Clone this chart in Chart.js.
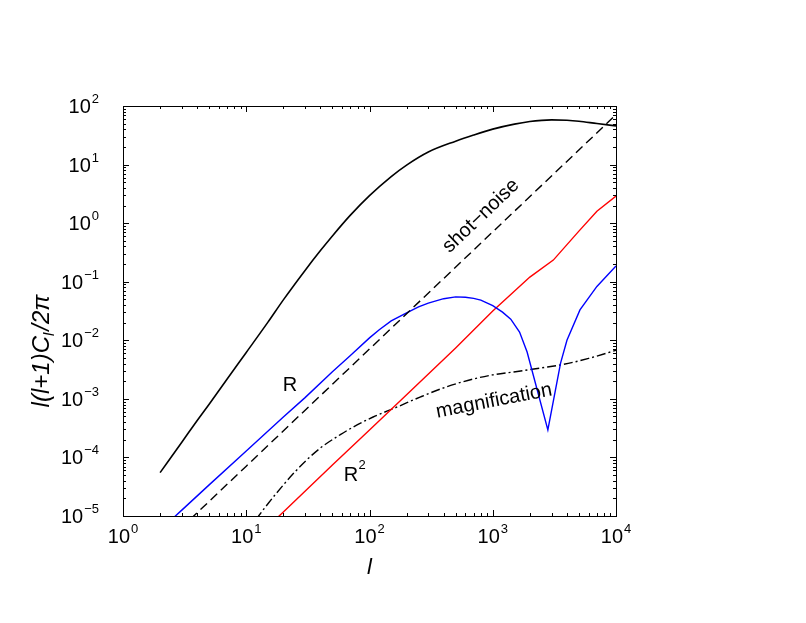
<!DOCTYPE html>
<html>
<head>
<meta charset="utf-8">
<script src="https://cdn.jsdelivr.net/npm/chart.js@4"></script>
<style>
  html, body { margin: 0; padding: 0; background: #fff; }
  #wrap { width: 806px; height: 623px; }
</style>
</head>
<body>
<div id="wrap"><canvas id="powerChart" width="806" height="623"></canvas></div>
<script>
// multipole l and l(l+1)C_l/2pi
const signalL = [2, 3, 4, 5, 7, 10, 15, 20, 30, 40, 50, 70, 100, 150, 200, 300, 500, 700, 1000, 1500, 2000, 2500, 3000, 4000, 5000, 7000, 10000];
const signalVals = [5.5e-5, 1.82e-4, 4.27e-4, 8.1e-4, 2.19e-3, 6.2e-3, 0.0204, 0.049, 0.156, 0.34, 0.605, 1.37, 2.95, 6.24, 9.8, 16.4, 25.1, 32.0, 40.3, 49.0, 54.3, 56.9, 57.9, 57.1, 55.0, 50.1, 45.7];

const shotL = [2, 3, 10, 100, 1000, 10000];
const shotVals = [2.8e-6, 6.4e-6, 7.1e-5, 7.1e-3, 0.71, 71];

const rL = [2, 3, 5, 10, 20, 30, 50, 70, 100, 120, 150, 200, 250, 300, 400, 500, 600, 700, 800, 1000, 1200, 1400, 1650, 1900, 2800, 3550, 4000, 5100, 7000, 10000];
const rVals = [5.75e-6, 1.26e-5, 3.4e-5, 1.29e-4, 4.9e-4, 1.05e-3, 2.9e-3, 5.5e-3, 0.011, 0.0151, 0.0214, 0.0295, 0.0372, 0.0432, 0.0513, 0.055, 0.0543, 0.0519, 0.0484, 0.0389, 0.0302, 0.0229, 0.0138, 6.3e-3, 2.95e-4, 4.07e-3, 0.01, 0.033, 0.083, 0.186];

const r2L = [10, 20, 50, 100, 200, 500, 1000, 2000, 3100, 5000, 7000, 10000];
const r2Vals = [2.95e-6, 1.17e-5, 7.4e-5, 2.95e-4, 1.17e-3, 7.4e-3, 0.0316, 0.12, 0.234, 0.73, 1.6, 2.9];

const magL = [10, 12.6, 15, 20, 25, 31, 40, 58, 80, 107, 166, 257, 427, 700, 1000, 1480, 2500, 3550, 6000, 10000];
const magVals = [5.0e-6, 1e-5, 1.62e-5, 3.39e-5, 5.75e-5, 9.1e-5, 1.45e-4, 2.45e-4, 3.63e-4, 4.9e-4, 7.2e-4, 1.07e-3, 1.62e-3, 2.19e-3, 2.57e-3, 2.88e-3, 3.39e-3, 3.8e-3, 4.9e-3, 6.76e-3];

const xDecades = [0, 1, 2, 3, 4];
const yDecades = [-5, -4, -3, -2, -1, 0, 1, 2];

const toPoints = (ls, vs) => ls.map((l, i) => ({ x: l, y: vs[i] }));

const FONT = '"Liberation Sans", Arial, Helvetica, sans-serif';

function supText(n) {
  return n < 0 ? "\u2212" + Math.abs(n) : String(n);
}

// draws "10" with a raised exponent
function drawPow(ctx, exp, x, baseY, align) {
  ctx.font = `20px ${FONT}`;
  const w10 = ctx.measureText("10").width;
  ctx.font = `13px ${FONT}`;
  const sup = supText(exp);
  const wSup = ctx.measureText(sup).width + 1;
  let left;
  if (align === "center") left = x - (w10 + wSup) / 2;
  else left = x - (w10 + wSup);
  ctx.textAlign = "left";
  ctx.textBaseline = "alphabetic";
  ctx.font = `20px ${FONT}`;
  ctx.fillText("10", left, baseY);
  ctx.font = `13px ${FONT}`;
  ctx.fillText(sup, left + w10 + 1, baseY - 10);
}

const framePlugin = {
  id: "frame",
  afterDraw(chart) {
    const { ctx, chartArea: a, scales } = chart;
    const xs = scales.x, ys = scales.y;
    ctx.save();
    ctx.strokeStyle = "#000";
    ctx.fillStyle = "#000";
    ctx.lineWidth = 1;
    ctx.strokeRect(Math.round(a.left) + 0.5, Math.round(a.top) + 0.5,
      Math.round(a.right - a.left), Math.round(a.bottom - a.top));

    ctx.beginPath();
    xDecades.forEach((d) => {
      for (let k = 1; k <= 9; k++) {
        const v = k * Math.pow(10, d);
        if (v > 1e4) break;
        const px = Math.round(xs.getPixelForValue(v)) + 0.5;
        const len = k === 1 ? 6 : 3;
        ctx.moveTo(px, a.bottom); ctx.lineTo(px, a.bottom - len);
        ctx.moveTo(px, a.top); ctx.lineTo(px, a.top + len);
      }
    });
    yDecades.forEach((d) => {
      for (let k = 1; k <= 9; k++) {
        const v = k * Math.pow(10, d);
        if (v > 100) break;
        const py = Math.round(ys.getPixelForValue(v)) + 0.5;
        const len = k === 1 ? 6 : 3;
        ctx.moveTo(a.left, py); ctx.lineTo(a.left + len, py);
        ctx.moveTo(a.right, py); ctx.lineTo(a.right - len, py);
      }
    });
    ctx.stroke();

    // tick labels
    xDecades.forEach((d) => {
      drawPow(ctx, d, xs.getPixelForValue(Math.pow(10, d)), a.bottom + 27, "center");
    });
    yDecades.forEach((d) => {
      drawPow(ctx, d, a.left - 24, ys.getPixelForValue(Math.pow(10, d)) + 7, "right");
    });

    // axis titles
    ctx.font = `italic 22px ${FONT}`;
    ctx.textAlign = "center";
    ctx.fillText("l", (a.left + a.right) / 2, a.bottom + 58);

    ctx.save();
    ctx.translate(49, (a.top + a.bottom) / 2 + 40);
    ctx.rotate(-Math.PI / 2);
    const p1 = "l(l+1)C", p2 = "l", p3 = "/2\u03c0";
    ctx.font = `italic 24px ${FONT}`;
    const w1 = ctx.measureText(p1).width, w3 = ctx.measureText(p3).width;
    ctx.font = `italic 15px ${FONT}`;
    const w2 = ctx.measureText(p2).width + 2;
    let sx = -(w1 + w2 + w3) / 2;
    ctx.textAlign = "left";
    ctx.font = `italic 24px ${FONT}`;
    ctx.fillText(p1, sx, 0);
    ctx.font = `italic 15px ${FONT}`;
    ctx.fillText(p2, sx + w1, 5);
    ctx.font = `italic 24px ${FONT}`;
    ctx.fillText(p3, sx + w1 + w2, 0);
    ctx.restore();

    // curve labels
    ctx.font = `20px ${FONT}`;
    ctx.textAlign = "center";
    ctx.textBaseline = "middle";
    ctx.fillText("R", 290, 385);
    ctx.fillText("R", 351, 475);
    ctx.font = `13px ${FONT}`;
    ctx.fillText("2", 362, 465);

    ctx.save();
    ctx.translate(481, 216);
    ctx.rotate(-43.6 * Math.PI / 180);
    ctx.font = `20px ${FONT}`;
    ctx.fillText("shot\u2212noise", 0, 0);
    ctx.restore();

    ctx.save();
    ctx.translate(494, 401);
    ctx.rotate(-11 * Math.PI / 180);
    ctx.font = `20px ${FONT}`;
    ctx.fillText("magnification", 0, 0);
    ctx.restore();

    ctx.restore();
  }
};

const ctx = document.getElementById("powerChart").getContext("2d");
new Chart(ctx, {
  type: "line",
  data: {
    datasets: [
      {
        label: "signal",
        data: toPoints(signalL, signalVals),
        borderColor: "#000",
        borderWidth: 1.6,
        cubicInterpolationMode: "monotone"
      },
      {
        label: "shot-noise",
        data: toPoints(shotL, shotVals),
        borderColor: "#000",
        borderWidth: 1.4,
        borderDash: [9, 5]
      },
      {
        label: "R",
        data: toPoints(rL, rVals),
        borderColor: "#0000ff",
        borderWidth: 1.4,
        tension: 0
      },
      {
        label: "R2",
        data: toPoints(r2L, r2Vals),
        borderColor: "#ff0000",
        borderWidth: 1.4,
        tension: 0
      },
      {
        label: "magnification",
        data: toPoints(magL, magVals),
        borderColor: "#000",
        borderWidth: 1.4,
        borderDash: [9, 3, 2, 3],
        cubicInterpolationMode: "monotone"
      }
    ]
  },
  options: {
    responsive: false,
    animation: false,
    devicePixelRatio: 1,
    layout: { padding: { left: 123, top: 106, right: 190, bottom: 107 } },
    elements: { point: { radius: 0 } },
    plugins: { legend: { display: false }, tooltip: { enabled: false } },
    scales: {
      x: { type: "logarithmic", min: 1, max: 10000, display: false },
      y: { type: "logarithmic", min: 1e-5, max: 100, display: false }
    }
  },
  plugins: [framePlugin]
});
</script>
</body>
</html>
